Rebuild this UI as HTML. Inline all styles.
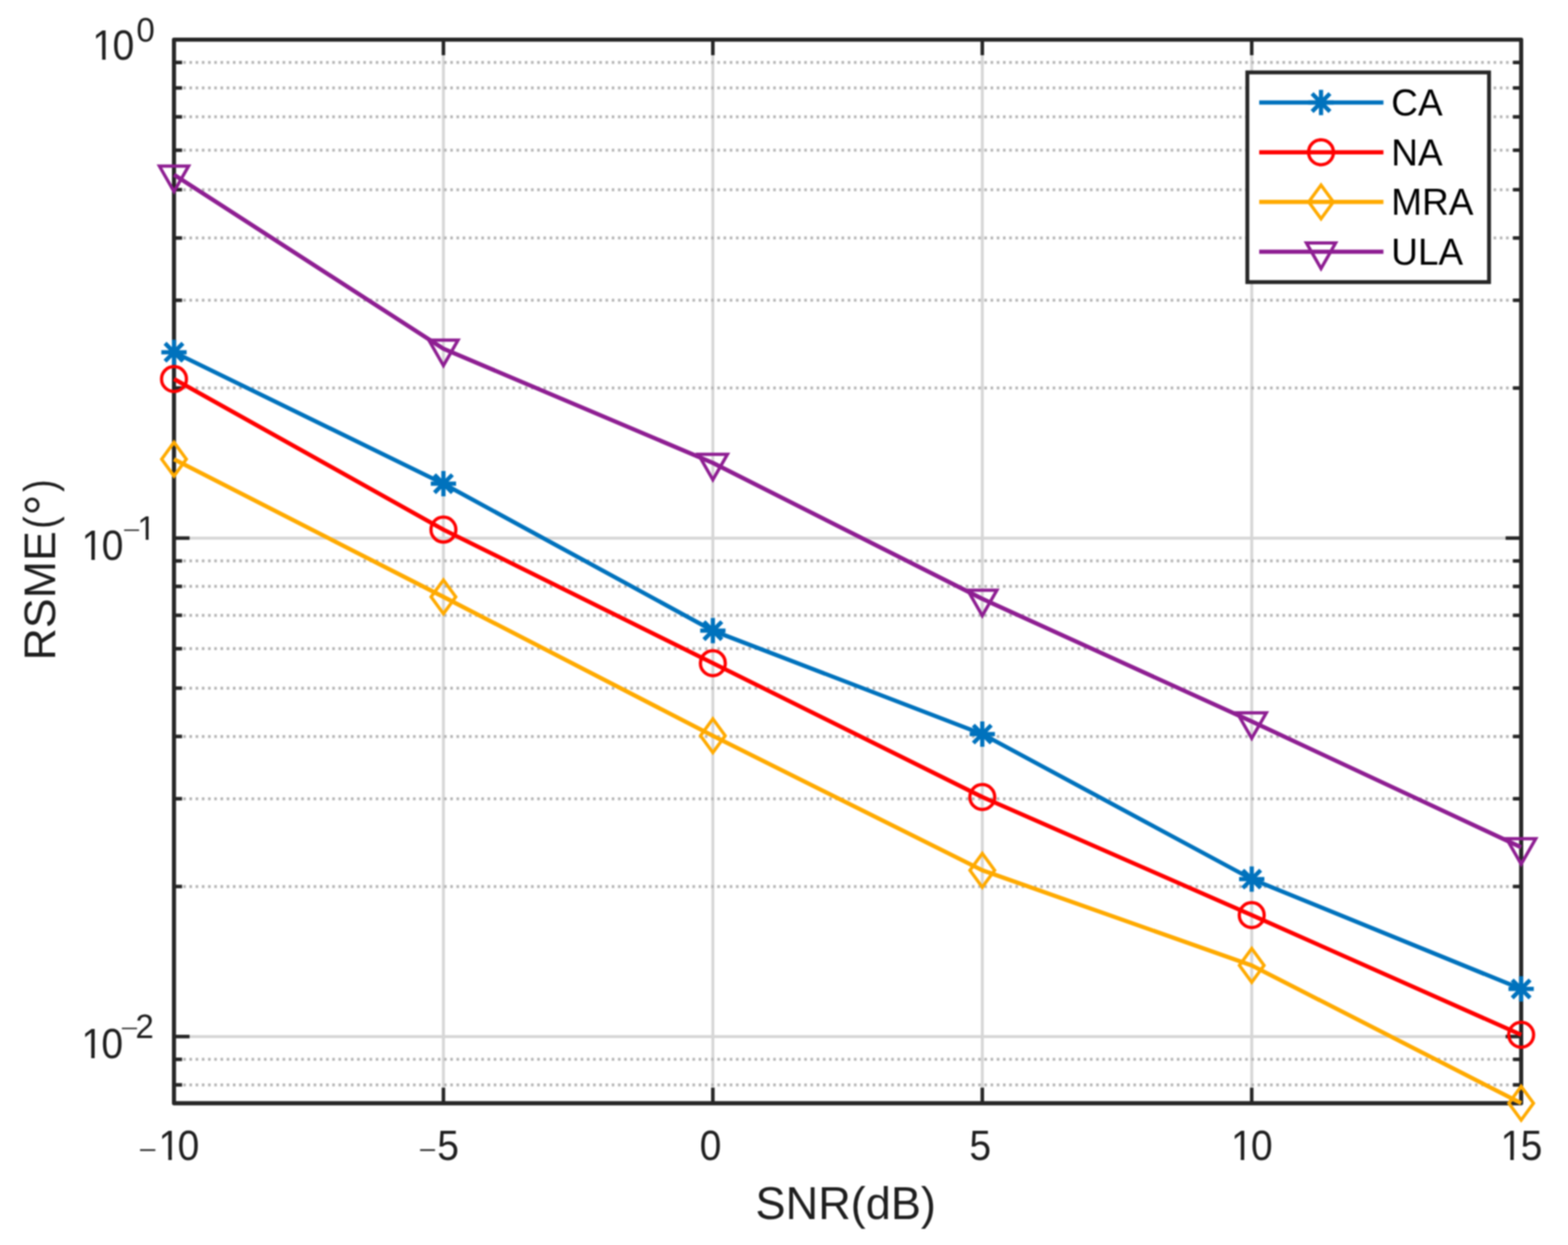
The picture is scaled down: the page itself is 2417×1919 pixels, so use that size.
<!DOCTYPE html><html><head><meta charset="utf-8"><title>RSME vs SNR</title>
<style>html,body{margin:0;padding:0;background:#fff;}svg{display:block;}text{font-family:"Liberation Sans",Arial,Helvetica,sans-serif;}</style></head><body>
<svg width="2417" height="1919" viewBox="0 0 2417 1919" style="filter:blur(0.9px)">
<rect x="0" y="0" width="2417" height="1919" fill="#fff"/>
<g stroke="#d6d6d6" stroke-width="4.5" fill="none">
<line x1="683.52" y1="61.1" x2="683.52" y2="1700.5"/>
<line x1="1098.84" y1="61.1" x2="1098.84" y2="1700.5"/>
<line x1="1514.16" y1="61.1" x2="1514.16" y2="1700.5"/>
<line x1="1929.48" y1="61.1" x2="1929.48" y2="1700.5"/>
<line x1="268.2" y1="829.4" x2="2344.8" y2="829.4"/>
<line x1="268.2" y1="1597.7" x2="2344.8" y2="1597.7"/>
</g>
<g stroke="#b6b6b6" stroke-width="4.5" stroke-dasharray="4 5.573" fill="none" stroke-dashoffset="4.92">
<line x1="268.2" y1="598.12" x2="2344.8" y2="598.12"/>
<line x1="268.2" y1="462.83" x2="2344.8" y2="462.83"/>
<line x1="268.2" y1="366.84" x2="2344.8" y2="366.84"/>
<line x1="268.2" y1="292.38" x2="2344.8" y2="292.38"/>
<line x1="268.2" y1="231.55" x2="2344.8" y2="231.55"/>
<line x1="268.2" y1="180.11" x2="2344.8" y2="180.11"/>
<line x1="268.2" y1="135.56" x2="2344.8" y2="135.56"/>
<line x1="268.2" y1="96.26" x2="2344.8" y2="96.26"/>
<line x1="268.2" y1="1366.42" x2="2344.8" y2="1366.42"/>
<line x1="268.2" y1="1231.13" x2="2344.8" y2="1231.13"/>
<line x1="268.2" y1="1135.14" x2="2344.8" y2="1135.14"/>
<line x1="268.2" y1="1060.68" x2="2344.8" y2="1060.68"/>
<line x1="268.2" y1="999.85" x2="2344.8" y2="999.85"/>
<line x1="268.2" y1="948.41" x2="2344.8" y2="948.41"/>
<line x1="268.2" y1="903.86" x2="2344.8" y2="903.86"/>
<line x1="268.2" y1="864.56" x2="2344.8" y2="864.56"/>
<line x1="268.2" y1="1672.16" x2="2344.8" y2="1672.16"/>
<line x1="268.2" y1="1632.86" x2="2344.8" y2="1632.86"/>
</g>
<g stroke="#262626" stroke-width="6.3" fill="none" stroke-linejoin="round">
<rect x="268.2" y="61.1" width="2076.6" height="1639.4"/>
</g>
<g stroke="#262626" stroke-width="5.5" fill="none">
<line x1="683.52" y1="1700.5" x2="683.52" y2="1676.5"/>
<line x1="683.52" y1="61.1" x2="683.52" y2="85.1"/>
<line x1="1098.84" y1="1700.5" x2="1098.84" y2="1676.5"/>
<line x1="1098.84" y1="61.1" x2="1098.84" y2="85.1"/>
<line x1="1514.16" y1="1700.5" x2="1514.16" y2="1676.5"/>
<line x1="1514.16" y1="61.1" x2="1514.16" y2="85.1"/>
<line x1="1929.48" y1="1700.5" x2="1929.48" y2="1676.5"/>
<line x1="1929.48" y1="61.1" x2="1929.48" y2="85.1"/>
<line x1="268.2" y1="829.4" x2="292.2" y2="829.4"/>
<line x1="2344.8" y1="829.4" x2="2320.8" y2="829.4"/>
<line x1="268.2" y1="1597.7" x2="292.2" y2="1597.7"/>
<line x1="2344.8" y1="1597.7" x2="2320.8" y2="1597.7"/>
<line x1="268.2" y1="598.12" x2="280.7" y2="598.12"/>
<line x1="2344.8" y1="598.12" x2="2332.3" y2="598.12"/>
<line x1="268.2" y1="462.83" x2="280.7" y2="462.83"/>
<line x1="2344.8" y1="462.83" x2="2332.3" y2="462.83"/>
<line x1="268.2" y1="366.84" x2="280.7" y2="366.84"/>
<line x1="2344.8" y1="366.84" x2="2332.3" y2="366.84"/>
<line x1="268.2" y1="292.38" x2="280.7" y2="292.38"/>
<line x1="2344.8" y1="292.38" x2="2332.3" y2="292.38"/>
<line x1="268.2" y1="231.55" x2="280.7" y2="231.55"/>
<line x1="2344.8" y1="231.55" x2="2332.3" y2="231.55"/>
<line x1="268.2" y1="180.11" x2="280.7" y2="180.11"/>
<line x1="2344.8" y1="180.11" x2="2332.3" y2="180.11"/>
<line x1="268.2" y1="135.56" x2="280.7" y2="135.56"/>
<line x1="2344.8" y1="135.56" x2="2332.3" y2="135.56"/>
<line x1="268.2" y1="96.26" x2="280.7" y2="96.26"/>
<line x1="2344.8" y1="96.26" x2="2332.3" y2="96.26"/>
<line x1="268.2" y1="1366.42" x2="280.7" y2="1366.42"/>
<line x1="2344.8" y1="1366.42" x2="2332.3" y2="1366.42"/>
<line x1="268.2" y1="1231.13" x2="280.7" y2="1231.13"/>
<line x1="2344.8" y1="1231.13" x2="2332.3" y2="1231.13"/>
<line x1="268.2" y1="1135.14" x2="280.7" y2="1135.14"/>
<line x1="2344.8" y1="1135.14" x2="2332.3" y2="1135.14"/>
<line x1="268.2" y1="1060.68" x2="280.7" y2="1060.68"/>
<line x1="2344.8" y1="1060.68" x2="2332.3" y2="1060.68"/>
<line x1="268.2" y1="999.85" x2="280.7" y2="999.85"/>
<line x1="2344.8" y1="999.85" x2="2332.3" y2="999.85"/>
<line x1="268.2" y1="948.41" x2="280.7" y2="948.41"/>
<line x1="2344.8" y1="948.41" x2="2332.3" y2="948.41"/>
<line x1="268.2" y1="903.86" x2="280.7" y2="903.86"/>
<line x1="2344.8" y1="903.86" x2="2332.3" y2="903.86"/>
<line x1="268.2" y1="864.56" x2="280.7" y2="864.56"/>
<line x1="2344.8" y1="864.56" x2="2332.3" y2="864.56"/>
<line x1="268.2" y1="1672.16" x2="280.7" y2="1672.16"/>
<line x1="2344.8" y1="1672.16" x2="2332.3" y2="1672.16"/>
<line x1="268.2" y1="1632.86" x2="280.7" y2="1632.86"/>
<line x1="2344.8" y1="1632.86" x2="2332.3" y2="1632.86"/>
</g>
<polyline points="268.2,542.9 683.52,745.6 1098.84,972.1 1514.16,1131.5 1929.48,1355 2344.8,1524.3" fill="none" stroke="#0072BD" stroke-width="6.5" stroke-linejoin="round"/>
<path d="M268.2 523.4V562.4M248.7 542.9H287.7M254.41 529.11L281.99 556.69M254.41 556.69L281.99 529.11" fill="none" stroke="#0072BD" stroke-width="6.5" stroke-linecap="butt"/>
<path d="M683.52 726.1V765.1M664.02 745.6H703.02M669.73 731.81L697.31 759.39M669.73 759.39L697.31 731.81" fill="none" stroke="#0072BD" stroke-width="6.5" stroke-linecap="butt"/>
<path d="M1098.84 952.6V991.6M1079.34 972.1H1118.34M1085.05 958.31L1112.63 985.89M1085.05 985.89L1112.63 958.31" fill="none" stroke="#0072BD" stroke-width="6.5" stroke-linecap="butt"/>
<path d="M1514.16 1112V1151M1494.66 1131.5H1533.66M1500.37 1117.71L1527.95 1145.29M1500.37 1145.29L1527.95 1117.71" fill="none" stroke="#0072BD" stroke-width="6.5" stroke-linecap="butt"/>
<path d="M1929.48 1335.5V1374.5M1909.98 1355H1948.98M1915.69 1341.21L1943.27 1368.79M1915.69 1368.79L1943.27 1341.21" fill="none" stroke="#0072BD" stroke-width="6.5" stroke-linecap="butt"/>
<path d="M2344.8 1504.8V1543.8M2325.3 1524.3H2364.3M2331.01 1510.51L2358.59 1538.09M2331.01 1538.09L2358.59 1510.51" fill="none" stroke="#0072BD" stroke-width="6.5" stroke-linecap="butt"/>
<polyline points="268.2,584.2 683.52,816.3 1098.84,1022.2 1514.16,1228.5 1929.48,1410.5 2344.8,1595" fill="none" stroke="#FF0000" stroke-width="6.5" stroke-linejoin="round"/>
<circle cx="268.2" cy="584.2" r="19.2" fill="none" stroke="#FF0000" stroke-width="5"/>
<circle cx="683.52" cy="816.3" r="19.2" fill="none" stroke="#FF0000" stroke-width="5"/>
<circle cx="1098.84" cy="1022.2" r="19.2" fill="none" stroke="#FF0000" stroke-width="5"/>
<circle cx="1514.16" cy="1228.5" r="19.2" fill="none" stroke="#FF0000" stroke-width="5"/>
<circle cx="1929.48" cy="1410.5" r="19.2" fill="none" stroke="#FF0000" stroke-width="5"/>
<circle cx="2344.8" cy="1595" r="19.2" fill="none" stroke="#FF0000" stroke-width="5"/>
<polyline points="268.2,707.8 683.52,920 1098.84,1134.1 1514.16,1341.4 1929.48,1488.1 2344.8,1700.4" fill="none" stroke="#FFAA00" stroke-width="6.5" stroke-linejoin="round"/>
<polygon points="268.2,681.8 287.2,707.8 268.2,733.8 249.2,707.8" fill="none" stroke="#FFAA00" stroke-width="5" stroke-linejoin="miter"/>
<polygon points="683.52,894 702.52,920 683.52,946 664.52,920" fill="none" stroke="#FFAA00" stroke-width="5" stroke-linejoin="miter"/>
<polygon points="1098.84,1108.1 1117.84,1134.1 1098.84,1160.1 1079.84,1134.1" fill="none" stroke="#FFAA00" stroke-width="5" stroke-linejoin="miter"/>
<polygon points="1514.16,1315.4 1533.16,1341.4 1514.16,1367.4 1495.16,1341.4" fill="none" stroke="#FFAA00" stroke-width="5" stroke-linejoin="miter"/>
<polygon points="1929.48,1462.1 1948.48,1488.1 1929.48,1514.1 1910.48,1488.1" fill="none" stroke="#FFAA00" stroke-width="5" stroke-linejoin="miter"/>
<polygon points="2344.8,1674.4 2363.8,1700.4 2344.8,1726.4 2325.8,1700.4" fill="none" stroke="#FFAA00" stroke-width="5" stroke-linejoin="miter"/>
<polyline points="268.2,269.3 683.52,537.5 1098.84,713.5 1514.16,923 1929.48,1112 2344.8,1306" fill="none" stroke="#8E1E92" stroke-width="6.5" stroke-linejoin="round"/>
<polygon points="245.7,256 290.7,256 268.2,295.3" fill="none" stroke="#8E1E92" stroke-width="5" stroke-linejoin="miter"/>
<polygon points="661.02,524.2 706.02,524.2 683.52,563.5" fill="none" stroke="#8E1E92" stroke-width="5" stroke-linejoin="miter"/>
<polygon points="1076.34,700.2 1121.34,700.2 1098.84,739.5" fill="none" stroke="#8E1E92" stroke-width="5" stroke-linejoin="miter"/>
<polygon points="1491.66,909.7 1536.66,909.7 1514.16,949" fill="none" stroke="#8E1E92" stroke-width="5" stroke-linejoin="miter"/>
<polygon points="1906.98,1098.7 1951.98,1098.7 1929.48,1138" fill="none" stroke="#8E1E92" stroke-width="5" stroke-linejoin="miter"/>
<polygon points="2322.3,1292.7 2367.3,1292.7 2344.8,1332" fill="none" stroke="#8E1E92" stroke-width="5" stroke-linejoin="miter"/>
<rect x="1922.7" y="111.6" width="372.6" height="323.2" fill="#fff" stroke="#262626" stroke-width="6"/>
<line x1="1941" y1="158.1" x2="2132.5" y2="158.1" stroke="#0072BD" stroke-width="6.5"/>
<path d="M2036.3 138.6V177.6M2016.8 158.1H2055.8M2022.51 144.31L2050.09 171.89M2022.51 171.89L2050.09 144.31" fill="none" stroke="#0072BD" stroke-width="6.5" stroke-linecap="butt"/>
<text x="2144.5" y="178.1" font-size="57" fill="#000">CA</text>
<line x1="1941" y1="234.7" x2="2132.5" y2="234.7" stroke="#FF0000" stroke-width="6.5"/>
<circle cx="2036.3" cy="234.7" r="19.2" fill="none" stroke="#FF0000" stroke-width="5"/>
<text x="2144.5" y="254.7" font-size="57" fill="#000">NA</text>
<line x1="1941" y1="311.3" x2="2132.5" y2="311.3" stroke="#FFAA00" stroke-width="6.5"/>
<polygon points="2036.3,285.3 2055.3,311.3 2036.3,337.3 2017.3,311.3" fill="none" stroke="#FFAA00" stroke-width="5" stroke-linejoin="miter"/>
<text x="2144.5" y="331.3" font-size="57" fill="#000">MRA</text>
<line x1="1941" y1="387.9" x2="2132.5" y2="387.9" stroke="#8E1E92" stroke-width="6.5"/>
<polygon points="2013.8,374.6 2058.8,374.6 2036.3,413.9" fill="none" stroke="#8E1E92" stroke-width="5" stroke-linejoin="miter"/>
<text x="2144.5" y="407.9" font-size="57" fill="#000">ULA</text>
<defs>
<clipPath id="one52" clipPathUnits="userSpaceOnUse"><rect x="-50" y="-200" width="300" height="195.32"/><rect x="13.08" y="-5.38" width="4.6" height="23.88"/></clipPath>
<clipPath id="one65_5" clipPathUnits="userSpaceOnUse"><rect x="-50" y="-200" width="300" height="194.31"/><rect x="16.47" y="-6.39" width="5.79" height="24.89"/></clipPath>
</defs>
<text transform="translate(213.61 1786.16) scale(0.7415 0.5996)" font-size="65.5" fill="#303030">−</text>
<text transform="translate(244.32 1788) scale(0.92 1.0)" font-size="65.5" fill="#1e1e1e" clip-path="url(#one65_5)">1</text>
<text transform="translate(273.84 1788) scale(0.92 1.0)" font-size="65.5" fill="#1e1e1e">0</text>
<text transform="translate(645.37 1786.16) scale(0.7227 0.5996)" font-size="65.5" fill="#303030">−</text>
<text transform="translate(673.99 1788) scale(0.92 1.0)" font-size="65.5" fill="#1e1e1e">5</text>
<text transform="translate(1078.44 1788) scale(0.92 1.0)" font-size="65.5" fill="#1e1e1e">0</text>
<text transform="translate(1494.19 1788) scale(0.92 1.0)" font-size="65.5" fill="#1e1e1e">5</text>
<text transform="translate(1897.42 1788) scale(0.92 1.0)" font-size="65.5" fill="#1e1e1e" clip-path="url(#one65_5)">1</text>
<text transform="translate(1928.14 1788) scale(0.92 1.0)" font-size="65.5" fill="#1e1e1e">0</text>
<text transform="translate(2312.92 1788) scale(0.92 1.0)" font-size="65.5" fill="#1e1e1e" clip-path="url(#one65_5)">1</text>
<text transform="translate(2343.89 1788) scale(0.92 1.0)" font-size="65.5" fill="#1e1e1e">5</text>
<text transform="translate(142.32 92.1) scale(0.92 1.0)" font-size="65.5" fill="#1e1e1e" clip-path="url(#one65_5)">1</text>
<text transform="translate(173.44 92.1) scale(0.92 1.0)" font-size="65.5" fill="#1e1e1e">0</text>
<text transform="translate(210.31 63.5) scale(0.98 1.0)" font-size="52" fill="#1e1e1e">0</text>
<text transform="translate(125.72 863.3) scale(0.92 1.0)" font-size="65.5" fill="#1e1e1e" clip-path="url(#one65_5)">1</text>
<text transform="translate(156.84 863.3) scale(0.92 1.0)" font-size="65.5" fill="#1e1e1e">0</text>
<text transform="translate(189.26 827.63) scale(0.9142 0.6203)" font-size="52" fill="#303030">−</text>
<text transform="translate(211.78 831.6) scale(0.98 1.0)" font-size="52" fill="#1e1e1e" clip-path="url(#one52)">1</text>
<text transform="translate(125.42 1631.2) scale(0.92 1.0)" font-size="65.5" fill="#1e1e1e" clip-path="url(#one65_5)">1</text>
<text transform="translate(156.24 1631.2) scale(0.92 1.0)" font-size="65.5" fill="#1e1e1e">0</text>
<text transform="translate(185.83 1596.03) scale(0.9261 0.6203)" font-size="52" fill="#303030">−</text>
<text transform="translate(208.74 1599.9) scale(0.98 1.0)" font-size="52" fill="#1e1e1e">2</text>
<text x="1164.6" y="1879.2" font-size="69.5" fill="#1e1e1e">SNR(dB)</text>
<g transform="translate(84.5 1018) rotate(-90)" fill="#1e1e1e">
<text x="0" y="0" font-size="69">RSME</text>
<text transform="translate(203.01 0) scale(0.83 1)" font-size="69">(</text>
<text x="223.2" y="10.9" font-size="82">°</text>
<text transform="translate(260.07 0) scale(0.83 1)" font-size="69">)</text>
</g>
</svg></body></html>
